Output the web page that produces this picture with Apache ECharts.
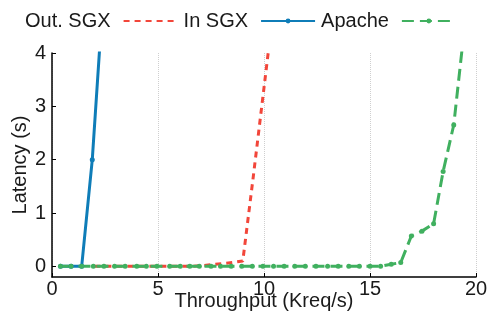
<!DOCTYPE html>
<html>
<head>
<meta charset="utf-8">
<script src="https://cdn.jsdelivr.net/npm/echarts@6/dist/echarts.min.js"></script>
<style>
  html, body { margin: 0; padding: 0; background: #fff; }
  #chart { width: 489px; height: 320px; }
</style>
</head>
<body>
<div id="chart"></div>
<script>
// latency (s) vs throughput (Kreq/s)
const inSgxX = [0.4, 0.9, 1.4, 1.9, 2.4]
const inSgxY = [0, 0, 0, 2.0, 5.0]

const outSgxX = [2.0, 2.5, 3.0, 3.5, 4.0, 4.5, 5.0, 5.5, 6.0, 6.5, 7.0, 7.5, 8.0, 8.5, 9.0, 9.5, 10.0, 10.5]
const outSgxY = [0, 0, 0, 0, 0, 0, 0, 0, 0, 0, 0.01, 0.03, 0.05, 0.07, 0.1, 1.7, 3.35, 5.0]

const apacheX = [0.4, 0.9, 1.4, 1.95, 2.45, 2.95, 3.45, 4.0, 4.45, 4.95, 5.55, 6.05, 6.5, 6.95, 7.5, 7.95,
  8.45, 8.95, 9.45, 9.95, 10.45, 10.95, 11.45, 11.95, 12.45, 13.0, 13.5, 14.0, 14.5, 15.0, 15.5, 16.0,
  16.45, 16.95, 17.45, 18.0, 18.45, 18.95, 19.6]
const apacheY = [0, 0, 0, 0, 0, 0, 0, 0, 0, 0, 0, 0, 0, 0, 0, 0,
  0, 0, 0, 0, 0, 0, 0, 0, 0, 0, 0, 0, 0, 0, 0, 0.04,
  0.07, 0.57, 0.66, 0.8, 1.78, 2.65, 5.0]

const xTicks = [0, 5, 10, 15, 20]
const yTicks = [0, 1, 2, 3, 4]

const C = { blue: '#0f7db8', red: '#f2463a', green: '#40b05f', text: '#1a1a1a', grid: '#cfcfcf' }
const FONT = 'Liberation Sans'

const zip = (xs, ys) => xs.map((x, i) => [x, ys[i]])

const chart = echarts.init(document.getElementById('chart'), null, { renderer: 'canvas' })

chart.setOption({
  animation: false,
  textStyle: { fontFamily: FONT },
  legend: {
    data: [
      { name: 'Out. SGX', itemStyle: { color: 'rgba(0,0,0,0)', opacity: 0 } },
      { name: 'In SGX' },
      { name: 'Apache' },
    ],
    left: 20,
    top: 6,
    align: 'right',
    itemWidth: 54,
    itemHeight: 6,
    itemGap: 5,
    textStyle: { fontSize: 20, color: C.text, fontFamily: FONT, padding: [0, 8, 0, 0] },
  },
  grid: { left: 52, right: 13, top: 53, bottom: 43, containLabel: false, outerBoundsMode: 'none' },
  xAxis: {
    type: 'value',
    min: 0,
    max: 20,
    interval: 5,
    name: 'Throughput (Kreq/s)',
    nameLocation: 'middle',
    nameGap: 14,
    nameMoveOverlap: false,
    nameTextStyle: { fontSize: 20, color: C.text, fontFamily: FONT, verticalAlign: 'top' },
    axisLine: { onZero: false, lineStyle: { color: '#000', width: 1.5 } },
    axisTick: { inside: true, length: 4, lineStyle: { color: '#000' } },
    axisLabel: { fontSize: 20, color: C.text, margin: 2, showMaxLabel: true, showMinLabel: true,
      formatter: v => xTicks.includes(v) ? String(v) : '' },
    splitLine: { show: true, lineStyle: { color: C.grid, type: 'dotted', width: 1 } },
  },
  yAxis: {
    type: 'value',
    min: -0.2,
    max: 4,
    name: 'Latency (s)',
    nameLocation: 'middle',
    nameGap: 22,
    nameMoveOverlap: false,
    nameTextStyle: { fontSize: 20, color: C.text, fontFamily: FONT },
    axisLine: { show: true, onZero: false, lineStyle: { color: '#000', width: 1.5 } },
    axisTick: { show: true, inside: true, length: 4, customValues: yTicks, lineStyle: { color: '#000' } },
    axisLabel: { fontSize: 20, color: C.text, margin: 6, customValues: yTicks },
    splitLine: { show: false },
  },
  series: [
    {
      name: 'In SGX',
      type: 'line',
      data: zip(inSgxX, inSgxY),
      color: C.blue,
      symbol: 'circle',
      symbolSize: 5,
      showSymbol: true,
      clip: true,
      lineStyle: { width: 3, color: C.blue },
      itemStyle: { color: C.blue },
    },
    {
      name: 'Out. SGX',
      type: 'line',
      data: zip(outSgxX, outSgxY),
      color: C.red,
      symbol: 'none',
      clip: true,
      lineStyle: { width: 3, color: C.red, type: [6, 5] },
    },
    {
      name: 'Apache',
      type: 'line',
      data: zip(apacheX, apacheY),
      color: C.green,
      symbol: 'circle',
      symbolSize: 5,
      showSymbol: true,
      clip: true,
      lineStyle: { width: 3, color: C.green, type: [12, 6] },
      itemStyle: { color: C.green },
    },
  ],
})
</script>
</body>
</html>
